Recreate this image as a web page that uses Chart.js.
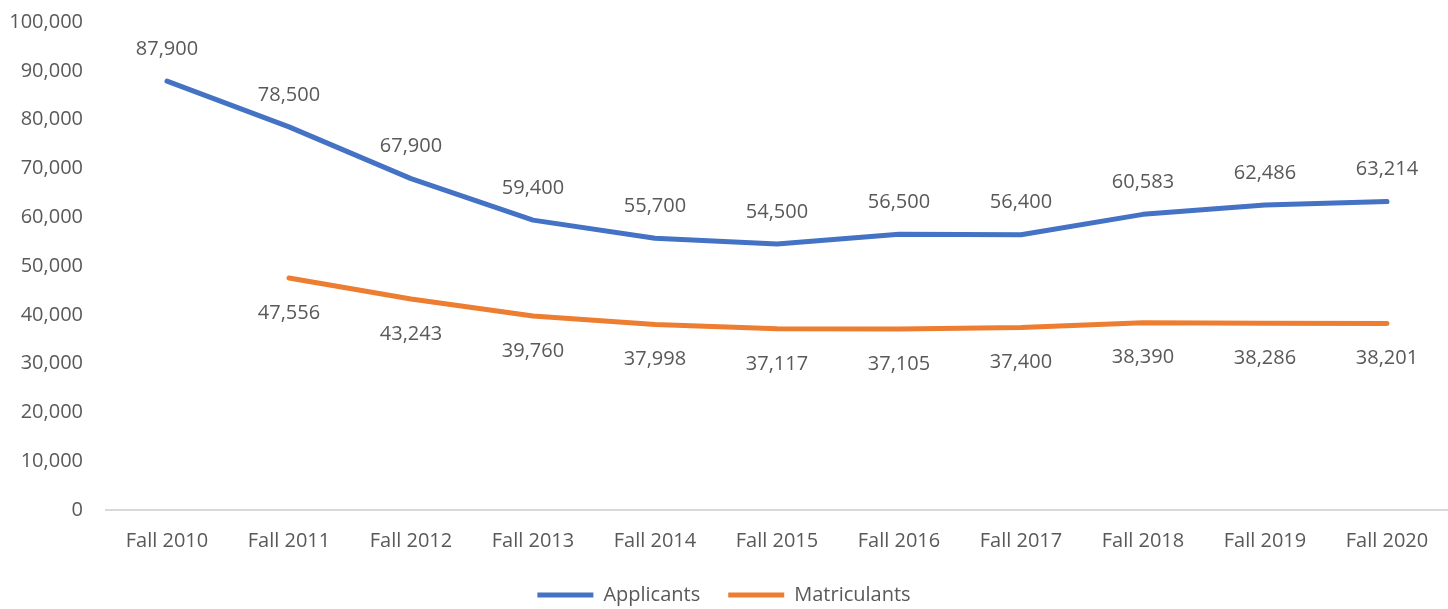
<!DOCTYPE html>
<html>
<head>
<meta charset="utf-8">
<script src="https://cdn.jsdelivr.net/npm/chart.js@4"></script>
<style>
  html, body { margin: 0; padding: 0; background: #fff; }
  #wrap { width: 1448px; height: 609px; overflow: hidden; position: relative; }
  #inner { position: absolute; left: 0; top: -13px; width: 1448px; height: 622px; }
</style>
</head>
<body>
<div id="wrap"><div id="inner"><canvas id="chart"></canvas></div></div>
<script>
var years = ["Fall 2010", "Fall 2011", "Fall 2012", "Fall 2013", "Fall 2014", "Fall 2015",
  "Fall 2016", "Fall 2017", "Fall 2018", "Fall 2019", "Fall 2020"];
var applicants = [87900, 78500, 67900, 59400, 55700, 54500, 56500, 56400, 60583, 62486, 63214];
var matriculants = [null, 47556, 43243, 39760, 37998, 37117, 37105, 37400, 38390, 38286, 38201];

var textColor = "#595959";
var fontFamily = "'Open Sans', 'Noto Sans', sans-serif";
var fontSize = 20;

// draws the value above (applicants) or below (matriculants) each point
var valueLabels = {
  id: "valueLabels",
  afterDatasetsDraw: function (chart) {
    var ctx = chart.ctx;
    ctx.save();
    ctx.font = fontSize + "px " + fontFamily;
    ctx.fillStyle = textColor;
    ctx.textAlign = "center";
    ctx.textBaseline = "middle";
    chart.data.datasets.forEach(function (ds, i) {
      var meta = chart.getDatasetMeta(i);
      var shift = i === 0 ? -32 : 35;
      meta.data.forEach(function (pt, j) {
        var v = ds.data[j];
        if (v === null) return;
        ctx.fillText(v.toLocaleString("en-US"), pt.x, pt.y + shift);
      });
    });
    ctx.restore();
  }
};

// fixed legend box height so the gap to the axis labels stays like the original
var legendHeight = {
  id: "legendHeight",
  afterInit: function (chart) {
    var lg = chart.legend;
    var fit = lg.fit;
    lg.fit = function () {
      fit.call(lg);
      lg.height = 52;
    };
  }
};

new Chart(document.getElementById("chart"), {
  type: "line",
  data: {
    labels: years,
    datasets: [
      {
        label: "Applicants",
        data: applicants,
        borderColor: "#4472C4",
        backgroundColor: "#4472C4",
        borderWidth: 5,
        pointRadius: 0,
        tension: 0,
        borderCapStyle: "round",
        borderJoinStyle: "round"
      },
      {
        label: "Matriculants",
        data: matriculants,
        borderColor: "#ED7D31",
        backgroundColor: "#ED7D31",
        borderWidth: 5,
        pointRadius: 0,
        tension: 0,
        borderCapStyle: "round",
        borderJoinStyle: "round"
      }
    ]
  },
  options: {
    responsive: true,
    maintainAspectRatio: false,
    animation: false,
    layout: { padding: { top: 0, right: 0, bottom: 0, left: 0 } },
    scales: {
      x: {
        offset: true,
        grid: { display: false, drawTicks: false },
        border: { color: "#D9D9D9", width: 2 },
        ticks: { color: textColor, font: { size: fontSize, family: fontFamily }, padding: 19 },
        afterFit: function (scale) { scale.height = 47; }
      },
      y: {
        min: 0,
        max: 100000,
        grid: { display: false, drawTicks: false },
        border: { display: false },
        ticks: {
          stepSize: 10000,
          color: textColor,
          padding: 23,
          font: { size: fontSize, family: fontFamily },
          callback: function (v) { return v.toLocaleString("en-US"); }
        },
        afterFit: function (scale) { scale.width = 106; }
      }
    },
    plugins: {
      tooltip: { enabled: false },
      legend: {
        position: "bottom",
        labels: {
          usePointStyle: true,
          pointStyle: "line",
          pointStyleWidth: 56,
          color: textColor,
          font: { size: fontSize, family: fontFamily },
          padding: 28
        }
      }
    }
  },
  plugins: [valueLabels, legendHeight]
});
</script>
</body>
</html>
